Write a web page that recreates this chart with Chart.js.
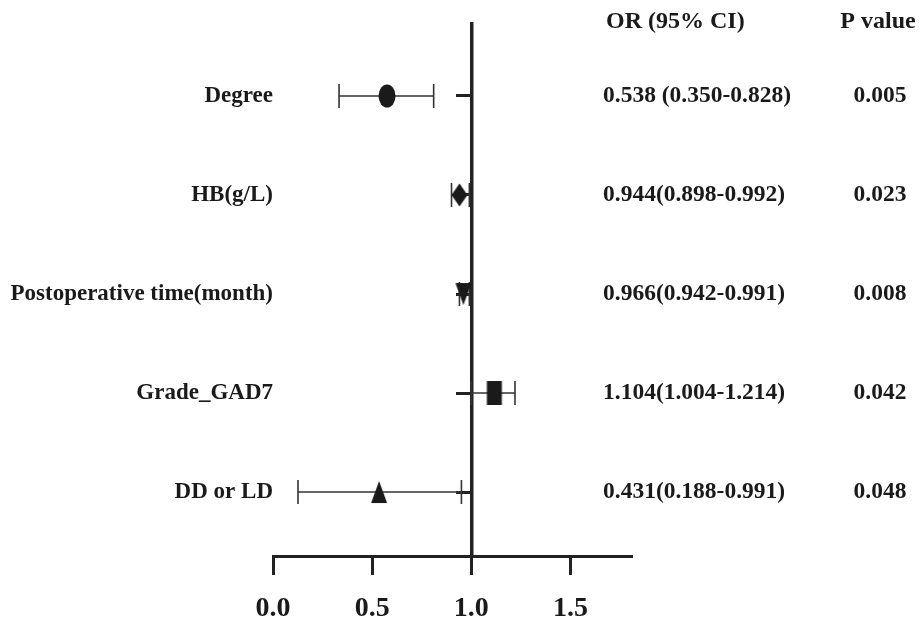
<!DOCTYPE html>
<html>
<head>
<meta charset="utf-8">
<script src="https://cdn.jsdelivr.net/npm/chart.js@4/dist/chart.umd.min.js"></script>
<style>
  html, body { margin: 0; padding: 0; background: #fff; }
  #plot { display: block; }
</style>
</head>
<body>
<canvas id="plot" width="920" height="626"></canvas>
<script>
// rows, top to bottom
const rowLabels = ["Degree", "HB(g/L)", "Postoperative time(month)", "Grade_GAD7", "DD or LD"];
// positions
const estimates = [0.575, 0.94, 0.96, 1.116, 0.535];
const lower = [0.333, 0.90, 0.94, 1.0, 0.126];
const upper = [0.81, 0.99, 0.99, 1.22, 0.95];
const markers = ["ellipse", "diamond", "triangleDown", "rect", "triangle"];
// text columns
const orText = ["0.538 (0.350-0.828)", "0.944(0.898-0.992)", "0.966(0.942-0.991)", "1.104(1.004-1.214)", "0.431(0.188-0.991)"];
const pText = ["0.005", "0.023", "0.008", "0.042", "0.048"];
const orHeader = "OR (95% CI)";
const pHeader = "P value";
const xTicks = [0, 0.5, 1.0, 1.5];

const ink = "#1a1a1a";
const serif = "'Liberation Serif', 'Times New Roman', serif";
const yMin = -0.727, yMax = 4.646, headerRow = -0.75;

// marker images (the source figure is stretched vertically)
function makeMarker(kind) {
  const w = 18, h = 24;
  const c = document.createElement("canvas");
  c.width = w; c.height = h;
  const g = c.getContext("2d");
  g.fillStyle = ink;
  g.beginPath();
  if (kind === "ellipse") {
    g.ellipse(w / 2, h / 2, 8.5, 11.5, 0, 0, Math.PI * 2);
  } else if (kind === "diamond") {
    g.moveTo(w / 2, 0.5); g.lineTo(w - 1, h / 2); g.lineTo(w / 2, h - 0.5); g.lineTo(1, h / 2);
  } else if (kind === "triangleDown") {
    g.moveTo(1, 1); g.lineTo(w - 1, 1); g.lineTo(w / 2, h - 1);
  } else if (kind === "rect") {
    g.rect(1.5, 0, 15, 24);
  } else {
    g.moveTo(w / 2, 1); g.lineTo(w - 1, h - 1); g.lineTo(1, h - 1);
  }
  g.closePath();
  g.fill();
  return c;
}

const ciSets = rowLabels.map((lab, i) => ({
  type: "line",
  label: lab,
  data: [{ x: lower[i], y: i }, { x: upper[i], y: i }],
  borderColor: "#333",
  borderWidth: 1.6,
  pointStyle: "line",
  pointRotation: 90,
  pointRadius: 12,
  pointBorderWidth: 1.6,
  pointBorderColor: "#333",
  order: 1
}));

const textColumns = {
  id: "textColumns",
  afterDraw(chart) {
    const c = chart.ctx;
    const y = chart.scales.y;
    c.save();
    c.fillStyle = ink;
    c.textBaseline = "middle";
    c.font = "bold 24px " + serif;
    c.textAlign = "left";
    c.fillText(orHeader, 606, y.getPixelForValue(headerRow));
    c.textAlign = "center";
    c.fillText(pHeader, 878, y.getPixelForValue(headerRow));
    c.font = "bold 23.5px " + serif;
    for (let i = 0; i < rowLabels.length; i++) {
      const py = y.getPixelForValue(i);
      c.textAlign = "left";
      c.fillText(orText[i], 603, py);
      c.textAlign = "center";
      c.fillText(pText[i], 880, py);
    }
    c.restore();
  }
};

const rowTicks = (scale) => { scale.ticks = rowLabels.map((_, i) => ({ value: i })); };

new Chart(document.getElementById("plot"), {
  type: "scatter",
  data: {
    datasets: [{
      label: "OR",
      data: estimates.map((v, i) => ({ x: v, y: i })),
      pointStyle: markers.map(makeMarker),
      pointRadius: 12,
      order: 0
    }].concat(ciSets)
  },
  options: {
    responsive: false,
    animation: false,
    devicePixelRatio: 1,
    layout: { padding: { left: 10, top: 24, right: 288, bottom: 0 } },
    plugins: { legend: { display: false }, tooltip: { enabled: false } },
    scales: {
      x: {
        type: "linear",
        position: "bottom",
        min: 0,
        max: 1.81,
        afterBuildTicks: (s) => { s.ticks = xTicks.map(v => ({ value: v })); },
        afterFit: (s) => { s.height = 70; },
        ticks: {
          callback: (v) => v.toFixed(1),
          color: ink,
          font: { family: serif, size: 28, weight: "bold" },
          padding: 17,
          maxRotation: 0
        },
        grid: { drawOnChartArea: false, tickLength: 19, tickWidth: 3, color: "#222" },
        border: { width: 3, color: "#222" }
      },
      y: {
        type: "linear",
        position: "left",
        reverse: true,
        min: yMin,
        max: yMax,
        afterBuildTicks: rowTicks,
        afterFit: (s) => { s.width = 263; },
        ticks: {
          callback: (v) => rowLabels[v],
          color: ink,
          font: { family: serif, size: 23, weight: "bold" },
          padding: 0,
          autoSkip: false
        },
        grid: { display: false, drawTicks: false },
        border: { display: false }
      },
      ref: {
        type: "linear",
        axis: "y",
        position: { x: 1 },
        reverse: true,
        min: yMin,
        max: yMax,
        afterBuildTicks: rowTicks,
        ticks: { display: false },
        grid: { drawOnChartArea: false, tickLength: 14, tickWidth: 3, color: "#222" },
        border: { width: 3.5, color: "#222" }
      }
    }
  },
  plugins: [textColumns]
});
</script>
</body>
</html>
